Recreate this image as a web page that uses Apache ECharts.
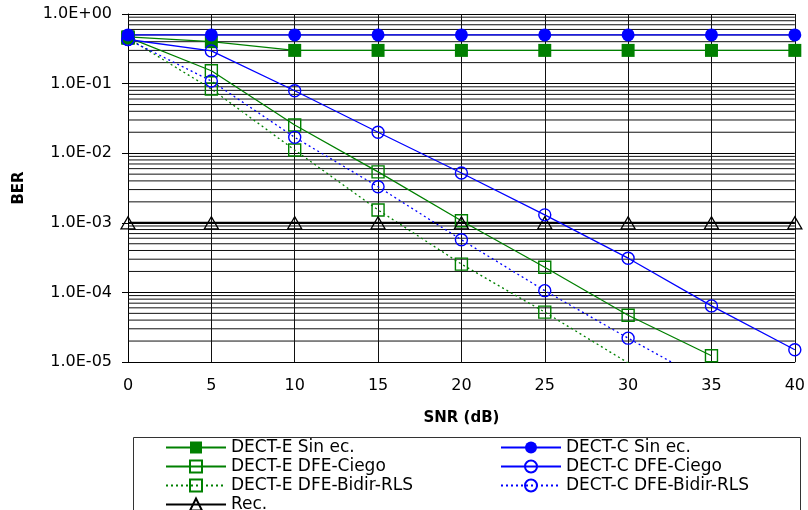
<!DOCTYPE html>
<html>
<head>
<meta charset="utf-8">
<script src="https://cdn.jsdelivr.net/npm/echarts@6/dist/echarts.min.js"></script>
<style>
  html, body { margin: 0; padding: 0; background: #fff; }
  #chart { width: 808px; height: 510px; }
</style>
</head>
<body>
<div id="chart"></div>
<script>
// SNR points (dB)
const snr = [0, 5, 10, 15, 20, 25, 30, 35, 40];

// BER per configuration
const dectESinEc    = [0.47, 0.40, 0.30, 0.30, 0.30, 0.30, 0.30, 0.30, 0.30];
const dectCSinEc    = [0.50, 0.50, 0.50, 0.50, 0.50, 0.50, 0.50, 0.50, 0.50];
const dectEDfeCiego = [0.46, 0.153, 0.0254, 0.0054, 0.00107, 2.3e-4, 4.7e-5, 1.23e-5];
const dectCDfeCiego = [0.43, 0.295, 0.079, 0.020, 0.0052, 0.0013, 3.1e-4, 6.4e-5, 1.5e-5];
const dectEDfeBidir = [0.45, 0.0836, 0.0111, 0.00153, 2.55e-4, 5.2e-5, 9.7e-6];
const dectCDfeBidir = [0.43, 0.109, 0.0169, 0.0033, 5.7e-4, 1.06e-4, 2.2e-5, 4.8e-6];
const recRef        = [1e-3, 1e-3, 1e-3, 1e-3, 1e-3, 1e-3, 1e-3, 1e-3, 1e-3];

// Y axis tick labels, one per decade from 1e-5 up to 1
const yTickLabels = ['1.0E-05', '1.0E-04', '1.0E-03', '1.0E-02', '1.0E-01', '1.0E+00'];
const yMinExp = -5;

// Intermediate log grid lines (2..9 x each decade)
const minorGrid = [];
for (let e = -5; e < 0; e++) {
  for (let m = 2; m <= 9; m++) minorGrid.push(m * Math.pow(10, e));
}

const GREEN = '#008000';
const BLUE = '#0000ff';
const FONT = 'DejaVu Sans';

function pairs(ys) {
  return ys.map((y, i) => [snr[i], y]);
}

function mkSeries(name, ys, color, symbol, size, filled, dotted) {
  return {
    name: name,
    type: 'line',
    data: pairs(ys),
    symbol: symbol,
    symbolSize: size,
    showSymbol: true,
    lineStyle: { color: color, width: 1.3, type: dotted ? [2, 3] : 'solid' },
    itemStyle: filled
      ? { color: color, borderColor: color, borderWidth: 0 }
      : { color: 'rgba(255,255,255,0)', borderColor: color, borderWidth: 1.4 },
    emphasis: { disabled: true },
    z: 3
  };
}

// Horizontal minor grid lines spanning the SNR range
const gridSeries = minorGrid.map(v => ({
  type: 'line',
  data: [[snr[0], v], [snr[snr.length - 1], v]],
  symbol: 'none',
  silent: true,
  lineStyle: { color: '#111', width: 1 },
  emphasis: { disabled: true },
  z: 1
}));

const series = gridSeries.concat([
  mkSeries('DECT-E Sin ec.', dectESinEc, GREEN, 'rect', 13, true, false),
  mkSeries('DECT-E DFE-Ciego', dectEDfeCiego, GREEN, 'rect', 12, false, false),
  mkSeries('DECT-E DFE-Bidir-RLS', dectEDfeBidir, GREEN, 'rect', 12, false, true),
  {
    name: 'Rec.',
    type: 'line',
    data: pairs(recRef),
    symbol: 'triangle',
    symbolSize: [14, 12],
    lineStyle: { color: '#000', width: 2 },
    itemStyle: { color: 'rgba(255,255,255,0)', borderColor: '#000', borderWidth: 1.3 },
    emphasis: { disabled: true },
    z: 3
  },
  mkSeries('DECT-C Sin ec.', dectCSinEc, BLUE, 'circle', 13, true, false),
  mkSeries('DECT-C DFE-Ciego', dectCDfeCiego, BLUE, 'circle', 12, false, false),
  mkSeries('DECT-C DFE-Bidir-RLS', dectCDfeBidir, BLUE, 'circle', 12, false, true)
]);

const legendCommon = {
  orient: 'horizontal',
  top: 438,
  width: 320,
  padding: 0,
  itemWidth: 60,
  itemHeight: 15,
  itemGap: 0,
  selectedMode: false,
  textStyle: { fontFamily: FONT, fontSize: 17, color: '#000', lineHeight: 19 }
};

const chart = echarts.init(document.getElementById('chart'), null, { renderer: 'canvas' });
chart.setOption({
  animation: false,
  backgroundColor: '#fff',
  grid: { left: 128, top: 14, width: 668, height: 348, containLabel: false },
  xAxis: {
    type: 'value',
    min: 0,
    max: 40,
    interval: 5,
    name: 'SNR (dB)',
    nameLocation: 'middle',
    nameGap: 49,
    nameTextStyle: { fontFamily: FONT, fontSize: 15, fontWeight: 'bold', color: '#000' },
    axisLine: { show: true, lineStyle: { color: '#000', width: 1 } },
    axisTick: { show: false },
    axisLabel: { fontFamily: FONT, fontSize: 16, color: '#000', margin: 16 },
    splitLine: { show: true, lineStyle: { color: '#111', width: 1 } }
  },
  yAxis: {
    type: 'log',
    logBase: 10,
    min: 1e-5,
    max: 1,
    name: 'BER',
    nameLocation: 'middle',
    nameGap: 101,
    nameRotate: 90,
    nameTextStyle: { fontFamily: FONT, fontSize: 15, fontWeight: 'bold', color: '#000' },
    axisLine: { show: true, lineStyle: { color: '#000', width: 1 } },
    axisTick: { show: true, length: 6, lineStyle: { color: '#000' } },
    axisLabel: {
      fontFamily: FONT,
      fontSize: 16,
      color: '#000',
      margin: 16,
      formatter: function (v) {
        const e = Math.round(Math.log10(v));
        return yTickLabels[e - yMinExp] || '';
      }
    },
    splitLine: { show: true, lineStyle: { color: '#000', width: 1 } }
  },
  legend: [
    Object.assign({}, legendCommon, {
      left: 165,
      data: ['DECT-E Sin ec.', 'DECT-E DFE-Ciego', 'DECT-E DFE-Bidir-RLS', 'Rec.']
    }),
    Object.assign({}, legendCommon, {
      left: 500,
      data: ['DECT-C Sin ec.', 'DECT-C DFE-Ciego', 'DECT-C DFE-Bidir-RLS']
    })
  ],
  graphic: [{
    type: 'rect',
    left: 131,
    top: 435,
    shape: { width: 667, height: 100 },
    style: { fill: 'none', stroke: '#333', lineWidth: 1 },
    silent: true,
    z: 0
  }],
  series: series
});
</script>
</body>
</html>
